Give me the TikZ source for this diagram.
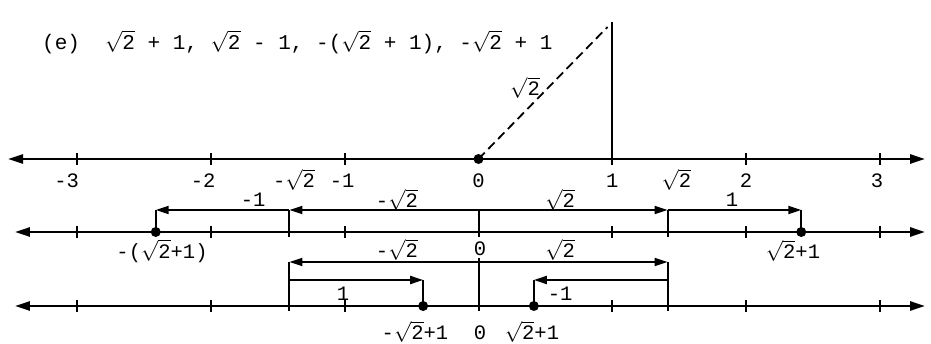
\documentclass[tikz,border=0pt]{standalone}
\usepackage{fontspec}
\setmainfont{Liberation Mono}
\usetikzlibrary{arrows.meta}
\newcommand{\rt}{$\sqrt{\mbox{2}}$}
\begin{document}
\begin{tikzpicture}[x=133.7pt,y=-1pt,
  axis/.style={line width=2.6pt,{Triangle[length=15pt,width=9pt]}-{Triangle[length=15pt,width=9pt]}},
  vec/.style={line width=2pt,-{Triangle[length=13pt,width=8pt]}},
  riser/.style={line width=2pt},
  tick/.style={line width=1.8pt},
  lbl/.style={font=\fontsize{20.5}{20.5}\selectfont, inner sep=0pt},
  dot/.style={circle,fill,inner sep=0pt,minimum size=10pt}]
\useasboundingbox (-3.5789,0) rectangle (3.3844,344);
% title
\node[lbl,anchor=west,font=\fontsize{21}{21}\selectfont] (title) at (-3.265,42)
  {(e)\ \ \rt\ + 1, \rt\ - 1, -(\rt\ + 1), -\rt\ + 1};
% ---------- line 1 ----------
\coordinate (L1l) at (-3.519,159);
\coordinate (L1r) at (3.340,159);
\draw[axis] (L1l) -- (L1r);
\foreach \v in {-3,-2,-1,1,2,3} \draw[tick] (\v,153) -- (\v,165);
\node[dot] (O) at (0,159) {};
\coordinate (T1) at (1,159);
\coordinate (T1top) at (1,22);
\coordinate (H) at (0.965,27);
\draw[line width=2pt] (T1) -- (T1top);
\draw[line width=1.8pt,dash pattern=on 9pt off 5pt] (O.center) -- (H);
\node[lbl] (hyp) at (0.348,88) {\rt};
\node[lbl] (n3m) at (-3.08,181) {-3};
\node[lbl] (n2m) at (-2.06,181) {-2};
\node[lbl] (nr2m) at (-1.38,180) {-\rt};
\node[lbl] (n1m) at (-1.02,181) {-1};
\node[lbl] (n0) at (0,181) {0};
\node[lbl] (n1) at (1,181) {1};
\node[lbl] (nr2) at (1.48,180) {\rt};
\node[lbl] (n2) at (2,181) {2};
\node[lbl] (n3) at (2.98,181) {3};
% ---------- line 2 ----------
\coordinate (L2l) at (-3.467,232);
\coordinate (L2r) at (3.340,232);
\draw[axis] (L2l) -- (L2r);
\foreach \v in {-3,-2,-1,1,2,3} \draw[tick] (\v,226) -- (\v,238);
\node[dot] (D2a) at (-2.414,232) {};
\node[dot] (D2b) at (2.414,232) {};
\coordinate (B2a) at (-2.414,210);
\coordinate (B2b) at (-1.414,210);
\coordinate (B2c) at (0,210);
\coordinate (B2d) at (1.414,210);
\coordinate (B2e) at (2.414,210);
\coordinate (F2b) at (-1.414,237);
\coordinate (F2c) at (0,237);
\coordinate (F2d) at (1.414,237);
\draw[riser] (D2a.center) -- (B2a);
\draw[riser] (D2b.center) -- (B2e);
\draw[riser] (F2b) -- (B2b);
\draw[riser] (F2c) -- (B2c);
\draw[riser] (F2d) -- (B2d);
\draw[vec] (B2c) -- (B2b);
\draw[vec] (B2c) -- (B2d);
\draw[vec] (B2b) -- (B2a);
\draw[vec] (B2d) -- (B2e);
\node[lbl] (m2a) at (-1.685,200) {-1};
\node[lbl] (m2b) at (-0.61,200) {-\rt};
\node[lbl] (m2c) at (0.61,200) {\rt};
\node[lbl] (m2d) at (1.896,200) {1};
\node[lbl] (u2a) at (-2.367,251) {-(\rt+1)};
\node[lbl] (u2b) at (0.011,249) {0};
\node[lbl] (u2c) at (2.352,251) {\rt+1};
% ---------- line 3 ----------
\coordinate (L3l) at (-3.467,306);
\coordinate (L3r) at (3.340,306);
\draw[axis] (L3l) -- (L3r);
\foreach \v in {-3,-2,-1,1,2,3} \draw[tick] (\v,300) -- (\v,312);
\node[dot] (D3a) at (-0.414,306) {};
\node[dot] (D3b) at (0.414,306) {};
\coordinate (C3a) at (-1.414,262);
\coordinate (C3b) at (0,262);
\coordinate (C3c) at (1.414,262);
\coordinate (E3a) at (-1.414,280);
\coordinate (E3b) at (-0.414,280);
\coordinate (E3c) at (0.414,280);
\coordinate (E3d) at (1.414,280);
\coordinate (G3a) at (-1.414,311);
\coordinate (G3b) at (0,311);
\coordinate (G3c) at (1.414,311);
\coordinate (Z3) at (0,258);
\draw[riser] (G3a) -- (C3a);
\draw[riser] (G3c) -- (C3c);
\draw[riser] (G3b) -- (Z3);
\draw[riser] (D3a.center) -- (E3b);
\draw[riser] (D3b.center) -- (E3c);
\draw[vec] (C3b) -- (C3a);
\draw[vec] (C3b) -- (C3c);
\draw[vec] (E3a) -- (E3b);
\draw[vec] (E3d) -- (E3c);
\node[lbl] (m3a) at (-0.61,250) {-\rt};
\node[lbl] (m3b) at (0.61,250) {\rt};
\node[lbl] (m3c) at (-1.013,294) {1};
\node[lbl] (m3d) at (0.61,294) {-1};
\node[lbl] (u3a) at (-0.475,332) {-\rt+1};
\node[lbl] (u3b) at (0.011,333) {0};
\node[lbl] (u3c) at (0.40,332) {\rt+1};
\end{tikzpicture}
\end{document}
